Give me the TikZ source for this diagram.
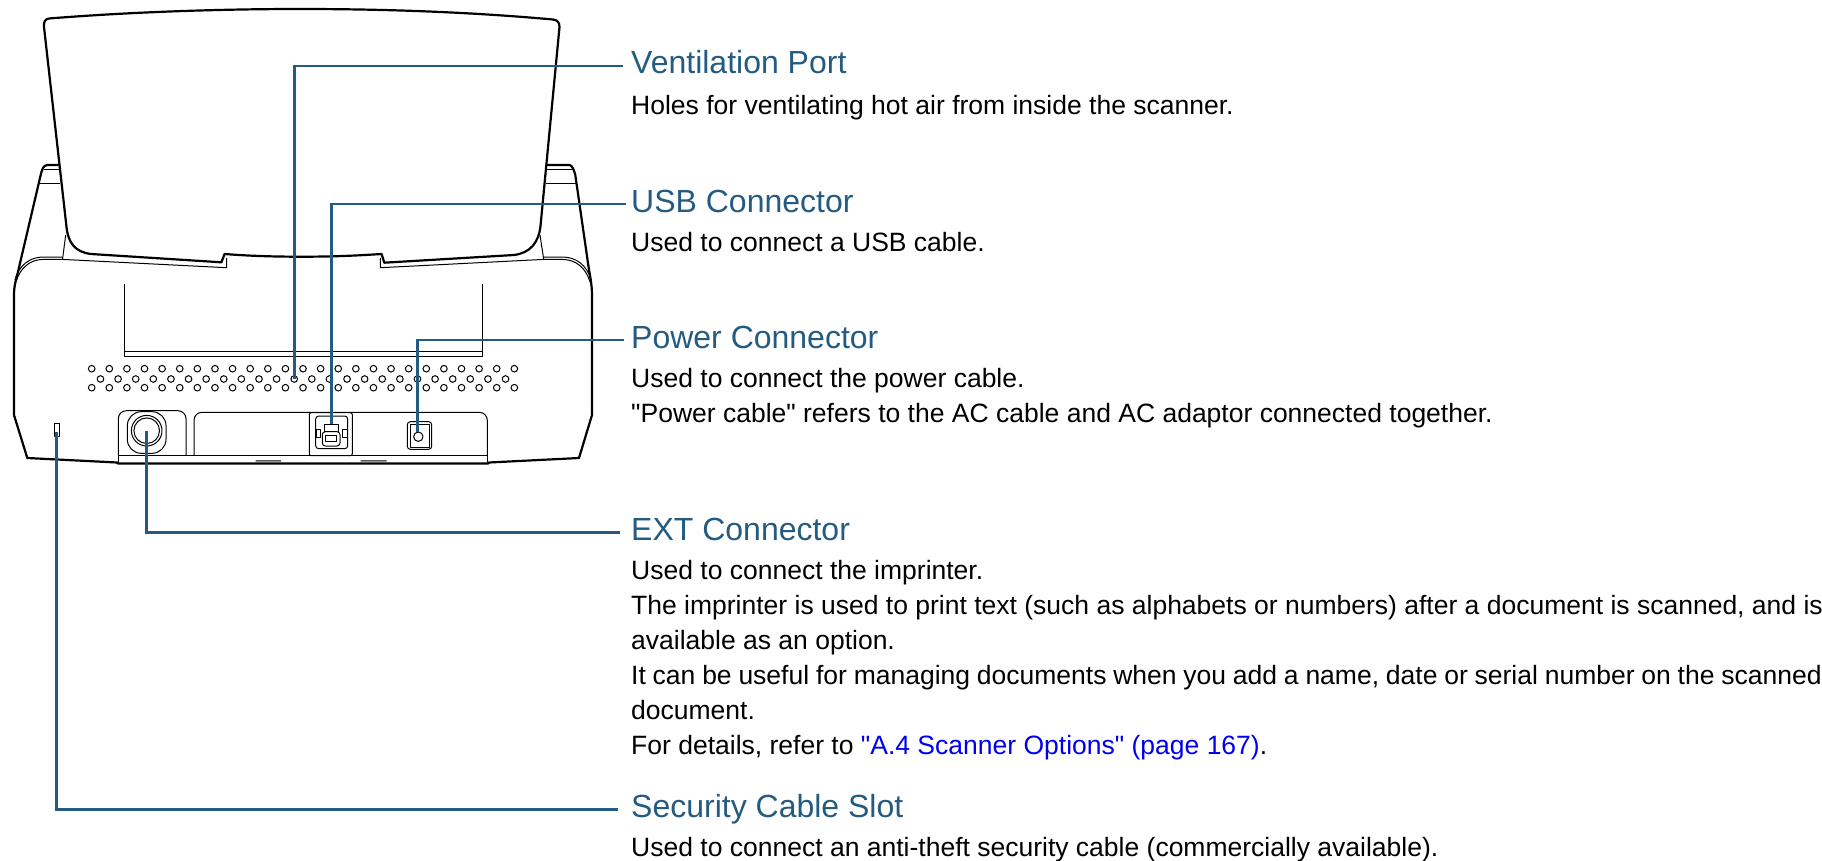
\documentclass[tikz,border=0pt]{standalone}
\usepackage{fontspec}
\newfontfamily\labelfont{Liberation Sans}
\usepackage{tikz}
\definecolor{leadblue}{RGB}{36,91,128}
\definecolor{linkblue}{RGB}{0,0,240}
\begin{document}
\begin{tikzpicture}[x=1pt,y=-1pt,
heavy/.style = {line width=2.2pt, line join=round},
thin line/.style = {line width=1pt, line join=round},
hole/.style = {line width=1pt},
leader/.style = {line width=2.8pt, color=leadblue},
title/.style = {anchor=base west, inner sep=0pt, text=leadblue, text height=21pt, text depth=5pt,
                font=\labelfont\fontsize{32}{36}\selectfont},
info/.style = {anchor=base west, inner sep=0pt, align=left,
               font=\labelfont\fontsize{26.5}{34.9}\selectfont}
                        ]
\useasboundingbox (0,0) rectangle (1822,861);
\def\bodyshape{(59.3,165) -- (47.4,165) .. controls (43,165) and (42,170) .. (40.7,175) -- (17,276)
  .. controls (15,283) and (14,288) .. (14,295) -- (14,415) -- (27.3,458) -- (117,462.5) -- (118,463.5)
  -- (488,463.5) -- (489,462.5) -- (579,458) -- (592,415) -- (592,295)
  .. controls (592,288) and (591,280) .. (589,270) -- (575.3,175)
  .. controls (574,170) and (572,165) .. (569.4,165) -- (546.9,165)}
\def\trayshape{(49,18.5) .. controls (130,12) and (220,9) .. (300,9) .. controls (385,9) and (470,12) .. (553,19.5)
  .. controls (557,20) and (559.5,22) .. (559.5,27) -- (540.5,226)
  .. controls (538.5,243) and (530,253) .. (514,255) -- (384.3,262.7) -- (381.6,254)
  .. controls (350,256) and (330,256.7) .. (300.5,256.7) .. controls (275,256.7) and (250,256) .. (224.6,254)
  -- (221.4,262.3) -- (91,254) .. controls (75,252) and (68,243) .. (66.4,226) -- (44,27)
  .. controls (43.5,22) and (45,19) .. (49,18.5) -- cycle}
%\def\oldtray{(44,25) -- (66,230)}
\draw[heavy] \bodyshape;
% inner lines of the body
\draw[thin line] (62.5,259.4) -- (43.3,259.4) .. controls (30,259.4) and (20,268) .. (16,282);
\draw[thin line] (62.5,257) -- (43.3,257) .. controls (30,257) and (19,265) .. (15,280);
\draw[thin line] (543.7,259.4) -- (562,259.4) .. controls (576,259.4) and (586,268) .. (590,282);
\draw[thin line] (543.7,257) -- (562,257) .. controls (576,257) and (587,265) .. (591,280);
\draw[thin line] (39.5,184) -- (60,184) (43.5,170) -- (60,170);
\draw[thin line] (546,184) -- (577,184) (546,170) -- (572,170);
\draw[thin line] (65.7,235) -- (62.5,259.4) -- (226.6,267.7) -- (226.6,258);
\draw[thin line] (540,235) -- (543.7,259.4) -- (380.4,267.7) -- (380.4,258);
\draw[thin line] (124.6,284) -- (124.6,356) -- (482,356) -- (482,284) (124.6,351.7) -- (482,351.7);
\fill[white] \trayshape;
\draw[heavy] \trayshape;
% vent holes
\foreach \i in {0,...,24}
  {\draw[hole] (91.7+17.61*\i,368.7) circle (3.3pt);
   \draw[hole] (91.7+17.61*\i,387.7) circle (3.3pt);}
\foreach \i in {0,...,23}
  \draw[hole] (100.5+17.61*\i,379) circle (3.3pt);
% security slot
\draw[thin line] (54.7,423.3) rectangle (59.3,436);
% port panels
\draw[thin line, rounded corners=8pt] (118.3,455) -- (118.3,410.7) -- (186,410.7) -- (186,455);
\draw[thin line, rounded corners=14pt] (127.3,411.7) rectangle (166,453.3);
\draw[thin line] (146.7,430.7) circle (15.3pt) (146.7,430.7) circle (12.8pt);
\draw[thin line, rounded corners=8pt] (194,455) -- (194,412.3) -- (487.3,412.3) -- (487.3,455);
\draw[thin line] (118.3,455) -- (487.3,455) (118.3,455) -- (118.3,462) (487.3,455) -- (487.3,462);
\fill[black!65] (255.7,460) rectangle (281,461.5) (360.7,460) rectangle (386.7,461.5);
% usb port
\draw[thin line, fill=white, rounded corners=2pt] (309.3,412.7) rectangle (352.3,455.7);
\draw[thin line, rounded corners=3pt] (315.7,416) rectangle (347.7,448.7);
\draw[thin line] (324,431.7) -- (324,424) -- (338.3,424) -- (338.3,431.7);
\draw[thin line, rounded corners=3pt] (322.3,431.7) rectangle (340,446);
\draw[thin line] (325.7,435) rectangle (336,441.7);
\draw[thin line] (316,429.3) rectangle (320,437.7) (342.3,429.3) rectangle (347.3,437.7);
% power port
\draw[thin line, rounded corners=3pt] (407.3,421.7) rectangle (431.7,449.3);
\draw[thin line] (410,424.3) rectangle (429.3,447.3);
\draw[thin line] (418.3,436.7) circle (4.7pt);
% free ends of the leaders
\coordinate (venthole) at (294.6,379);
\coordinate (usbport) at (331.4,424);
\coordinate (powerport) at (417.5,431.5);
\coordinate (extport) at (146.7,430.7);
\coordinate (slotport) at (56.7,432);
% labels
\node (ventilation) [title] at (631,74) {Ventilation Port};
\node (ventinfo) [info] at (631,114.3) {Holes for ventilating hot air from inside the scanner.};
\node (usb) [title] at (631,212) {USB Connector};
\node (usbinfo) [info] at (631,251) {Used to connect a USB cable.};
\node (power) [title] at (631,348) {Power Connector};
\node (powerinfo) [info] at (631,422) {Used to connect the power cable.\\
  "Power cable" refers to the AC cable and AC adaptor connected together.};
\node (ext) [title] at (631,540.5) {EXT Connector};
\node (extinfo) [info] at (631,754) {Used to connect the imprinter.\\
  The imprinter is used to print text (such as alphabets or numbers) after a document is scanned, and is\\
  available as an option.\\
  {\spaceskip=6.8pt It can be useful for managing documents when you add a name, date or serial number on the scanned}\\
  document.\\
  For details, refer to \textcolor{linkblue}{"A.4 Scanner Options" (page 167)}.};
\node (slot) [title] at (631,817.5) {Security Cable Slot};
\node (slotinfo) [info] at (631,856) {Used to connect an anti-theft security cable (commercially available).};
% leaders
\draw[leader, shorten <=8pt] (ventilation.west) -| (venthole);
\draw[leader, shorten <=5pt] (usb.west) -| (usbport);
\draw[leader, shorten <=7pt] (power.west) -| (powerport);
\draw[leader, shorten <=11pt] (ext.west) -| (extport);
\draw[leader, shorten <=13pt] (slot.west) -| (slotport);
\end{tikzpicture}
\end{document}
